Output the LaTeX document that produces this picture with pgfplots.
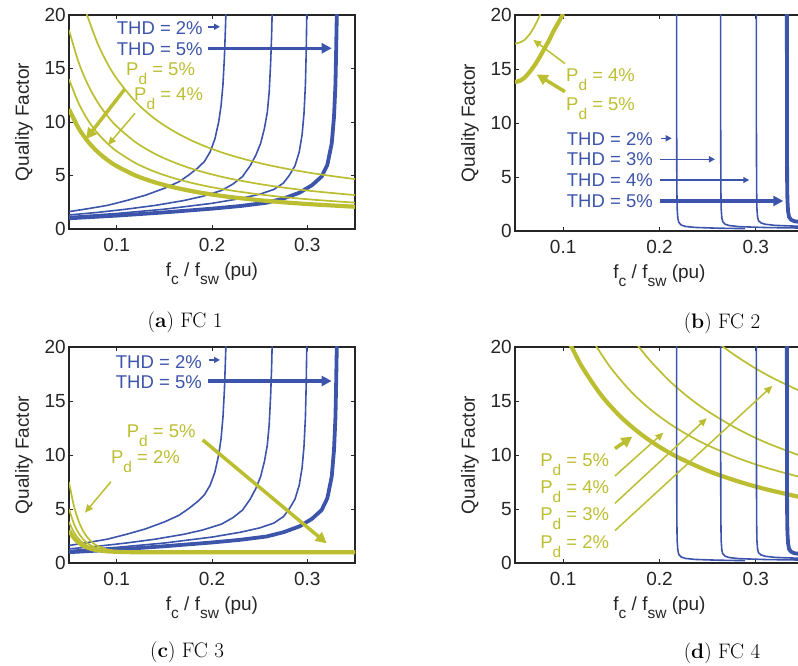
\documentclass[border=0pt]{standalone}
\usepackage{pgfplots}
\pgfplotsset{compat=1.18}
\usepackage{pgfplotstable}
\usepackage{fontspec}
\usetikzlibrary{arrows.meta}
\newfontfamily\arial{Liberation Sans}
\definecolor{thdblue}{RGB}{60,84,170}
\definecolor{pdyel}{RGB}{188,190,50}
\newcommand\sub[2][-9pt]{\raisebox{#1}{\fontsize{15.5}{16}\selectfont #2}}
\newcommand\ann{\arial\fontsize{18.5}{20}\selectfont}

% THD curves, shared by FC 1 and FC 3
\pgfplotstableread{
x y
0.05 1.62
0.07 1.9
0.09 2.2
0.11 2.65
0.13 3.15
0.15 3.8
0.165 4.4
0.175 5.0
0.185 5.7
0.192 6.3
0.198 7.2
0.203 8.4
0.207 10.0
0.2095 11.5
0.2115 13.5
0.213 16.0
0.214 18.5
0.2147 20.5
}\thdtwo
\pgfplotstableread{
x y
0.05 1.31
0.08 1.55
0.11 1.85
0.14 2.2
0.17 2.65
0.19 3.05
0.21 3.6
0.222 4.2
0.232 4.9
0.24 5.9
0.246 6.9
0.251 8.0
0.255 9.4
0.258 10.9
0.26 12.8
0.2615 15.5
0.2625 18.0
0.2632 20.5
}\thdthree
\pgfplotstableread{
x y
0.05 1.15
0.1 1.45
0.15 1.85
0.2 2.4
0.23 2.85
0.25 3.25
0.265 3.7
0.275 4.3
0.281 5.0
0.287 5.9
0.2915 7.2
0.2945 8.8
0.2965 10.8
0.298 13.5
0.2988 16.5
0.2995 20.5
}\thdfour
\pgfplotstableread{
x y
0.05 1.0
0.1 1.25
0.15 1.55
0.2 1.9
0.23 2.15
0.257 2.45
0.275 2.85
0.292 3.4
0.305 4.1
0.315 4.9
0.321 6.0
0.3256 8.0
0.328 10.5
0.3295 13.5
0.3303 17
0.331 20.5
}\thdfive
% THD curves of FC 2 and FC 4
\pgfplotstableread{
x y
0.2177 21
0.2178 10
0.2180 4
0.2183 2.1
0.2190 1.2
0.2200 0.8
0.2225 0.55
0.2270 0.42
0.2370 0.33
0.2600 0.26
0.2888 0.22
}\vthdtwo
\pgfplotstableread{
x y
0.2634 21
0.2635 10
0.2637 4
0.2640 2.1
0.2647 1.2
0.2657 0.85
0.2682 0.62
0.2727 0.5
0.2830 0.4
0.3100 0.32
0.35 0.27
}\vthdthree
\pgfplotstableread{
x y
0.3005 21
0.3006 10
0.3008 4
0.3011 2.1
0.3018 1.3
0.3028 0.95
0.3053 0.75
0.31 0.62
0.32 0.52
0.35 0.42
}\vthdfour
\pgfplotstableread{
x y
0.3322 21
0.3323 10
0.3325 4.5
0.3328 2.8
0.3335 1.8
0.3345 1.3
0.3365 1.05
0.34 0.9
0.35 0.8
}\vthdfive

\pgfplotsset{
  fcax/.style={
    scale only axis, anchor=south west,
    xmin=0.05, xmax=0.35, ymin=0, ymax=20,
    xtick={0.1,0.2,0.3}, xticklabels={0.1,0.2,0.3},
    ytick={0,5,10,15,20}, yticklabels={0,5,10,15,20},
    tick align=inside, major tick length=4pt,
    axis line style={black!85, line width=1.2pt},
    tick style={black!85, line width=0.8pt},
    tick label style={font=\arial\fontsize{19}{20}\selectfont, text=black!85, inner sep=1pt},
    xticklabel style={yshift=-8pt},
    yticklabel style={xshift=-2pt},
    label style={font=\arial\fontsize{19}{20}\selectfont, text=black!85},
    xlabel={f\sub[-8pt]{c} / f\sub[-8pt]{sw} (pu)},
    ylabel={Quality Factor},
    xlabel style={at={([yshift=-48pt]axis description cs:0.5,0)}, anchor=base},
    ylabel style={at={([xshift=-45pt]axis description cs:0,0.5)}, anchor=center},
    clip mode=individual,
  },
  bthin/.style={thdblue, line width=1.6pt},
  bthick/.style={thdblue, line width=3.8pt},
  ythin/.style={pdyel, line width=1.7pt, smooth},
  ythick/.style={pdyel, line width=4.2pt, smooth},
}
\tikzset{
  ann/.style={font=\ann, inner sep=0pt, anchor=base west},
  barrow/.style={thdblue, line width=1.5pt, -{Triangle[length=6pt,width=6pt]}},
  bbarrow/.style={thdblue, line width=3.5pt, -{Triangle[length=10pt,width=10pt]}},
  yarrow/.style={pdyel, line width=1.5pt, -{Triangle[length=8pt,width=7pt]}},
  yyarrow/.style={pdyel, line width=3.5pt, -{Triangle[length=11pt,width=11pt]}},
}

\begin{document}
\begin{tikzpicture}
\useasboundingbox (0,0) rectangle (798pt,666pt);

% (a) FC 1
\begin{axis}[fcax, at={(69pt,437pt)}, width=286pt, height=214pt]
\addplot[bthin] table {\thdtwo};
\addplot[bthin] table {\thdthree};
\addplot[bthin] table {\thdfour};
\addplot[bthick] table {\thdfive};
\addplot[ythin] coordinates {(0.066,20.84) (0.0689,20.0) (0.08,17.35) (0.09,15.52) (0.1,14.06) (0.12,11.87) (0.14,10.3) (0.16,9.13) (0.18,8.21) (0.2,7.48) (0.22,6.88) (0.25,6.16) (0.28,5.6) (0.31,5.15) (0.35,4.66)};
\addplot[ythin] coordinates {(0.05,18.6) (0.06,15.6) (0.07,13.46) (0.08,11.85) (0.09,10.6) (0.1,9.6) (0.12,8.1) (0.14,7.03) (0.16,6.23) (0.18,5.6) (0.2,5.1) (0.22,4.69) (0.25,4.2) (0.28,3.81) (0.31,3.5) (0.35,3.17)};
\addplot[ythin] coordinates {(0.05,14.0) (0.06,11.76) (0.07,10.15) (0.08,8.95) (0.09,8.02) (0.1,7.27) (0.12,6.15) (0.14,5.35) (0.16,4.75) (0.18,4.28) (0.2,3.9) (0.22,3.6) (0.25,3.23) (0.28,2.94) (0.31,2.71) (0.35,2.46)};
\addplot[ythick] coordinates {(0.05,11.2) (0.06,9.43) (0.07,8.16) (0.08,7.21) (0.09,6.47) (0.1,5.88) (0.12,4.99) (0.14,4.36) (0.16,3.89) (0.18,3.52) (0.2,3.22) (0.22,2.98) (0.25,2.69) (0.28,2.46) (0.31,2.28) (0.35,2.08)};
\node[ann, text=thdblue] at (axis cs:0.1,18.22) {THD = 2\%};
\node[ann, text=thdblue] at (axis cs:0.1,16.26) {THD = 5\%};
\draw[barrow] (axis cs:0.1961,18.9) -- (axis cs:0.2084,18.9);
\draw[bbarrow] (axis cs:0.1961,16.89) -- (axis cs:0.3256,16.89);
\node[ann, text=pdyel] at (axis cs:0.1098,14.39) {P\sub{d} = 5\%};
\node[ann, text=pdyel] at (axis cs:0.1182,11.99) {P\sub{d} = 4\%};
\draw[yyarrow] (axis cs:0.1087,13.1) -- (axis cs:0.0678,8.4);
\draw[yarrow] (axis cs:0.1192,10.8) -- (axis cs:0.0909,7.85);
\end{axis}

% (b) FC 2
\begin{axis}[fcax, at={(515pt,435pt)}, width=289pt, height=216pt]
\addplot[ythin] coordinates {(0.05,17.35) (0.055,17.45) (0.06,17.7) (0.065,18.2) (0.07,18.9) (0.075,19.8) (0.077,20.3)};
\addplot[ythick] coordinates {(0.05,13.8) (0.055,13.9) (0.06,14.2) (0.065,14.7) (0.07,15.3) (0.075,16.0) (0.08,16.8) (0.085,17.6) (0.09,18.5) (0.095,19.3) (0.1,20.1)};
\addplot[bthin] table {\vthdtwo};
\addplot[bthin] table {\vthdthree};
\addplot[bthin] table {\vthdfour};
\addplot[bthick] table {\vthdfive};
\node[ann, text=pdyel] at (axis cs:0.1029,13.82) {P\sub{d} = 4\%};
\node[ann, text=pdyel] at (axis cs:0.1029,11.2) {P\sub{d} = 5\%};
\draw[yarrow] (axis cs:0.1019,15.5) -- (axis cs:0.069,17.7);
\draw[yyarrow] (axis cs:0.1019,12.9) -- (axis cs:0.0725,14.5);
\node[ann, text=thdblue] at (axis cs:0.1037,7.96) {THD = 2\%};
\node[ann, text=thdblue] at (axis cs:0.1037,6.02) {THD = 3\%};
\node[ann, text=thdblue] at (axis cs:0.1037,4.1) {THD = 4\%};
\node[ann, text=thdblue] at (axis cs:0.1037,2.16) {THD = 5\%};
\draw[barrow] (axis cs:0.2016,8.58) -- (axis cs:0.2127,8.58);
\draw[barrow] (axis cs:0.2005,6.64) -- (axis cs:0.2576,6.64);
\draw[barrow] (axis cs:0.2005,4.72) -- (axis cs:0.2932,4.72);
\draw[bbarrow] (axis cs:0.2005,2.78) -- (axis cs:0.3285,2.78);
\end{axis}

% (c) FC 3
\begin{axis}[fcax, at={(69pt,103pt)}, width=286pt, height=216pt]
\addplot[bthin] table {\thdtwo};
\addplot[bthin] table {\thdthree};
\addplot[bthin] table {\thdfour};
\addplot[bthick] table {\thdfive};
\addplot[ythin] coordinates {(0.05,7.5) (0.055,5.34) (0.06,3.9) (0.065,2.94) (0.07,2.29) (0.075,1.86) (0.08,1.58) (0.09,1.26) (0.1,1.12) (0.12,1.02) (0.2,1.0) (0.35,1.0)};
\addplot[ythin] coordinates {(0.05,5.0) (0.055,3.67) (0.06,2.78) (0.065,2.19) (0.07,1.8) (0.075,1.53) (0.08,1.36) (0.09,1.16) (0.1,1.07) (0.12,1.01) (0.2,1.0) (0.35,1.0)};
\addplot[ythin] coordinates {(0.05,3.8) (0.055,2.87) (0.06,2.25) (0.065,1.83) (0.07,1.56) (0.075,1.37) (0.08,1.25) (0.09,1.11) (0.1,1.05) (0.12,1.01) (0.2,1.0) (0.35,1.0)};
\addplot[ythick] coordinates {(0.05,3.0) (0.055,2.34) (0.06,1.89) (0.065,1.6) (0.07,1.4) (0.075,1.27) (0.08,1.18) (0.09,1.08) (0.1,1.04) (0.12,1.0) (0.2,1.0) (0.35,1.0)};
\node[ann, text=thdblue] at (axis cs:0.099,18.03) {THD = 2\%};
\node[ann, text=thdblue] at (axis cs:0.099,16.18) {THD = 5\%};
\draw[barrow] (axis cs:0.1972,18.8) -- (axis cs:0.2084,18.8);
\draw[bbarrow] (axis cs:0.1961,16.85) -- (axis cs:0.3255,16.85);
\node[ann, text=pdyel] at (axis cs:0.1105,11.64) {P\sub{d} = 5\%};
\node[ann, text=pdyel] at (axis cs:0.094,9.23) {P\sub{d} = 2\%};
\draw[yarrow] (axis cs:0.094,7.53) -- (axis cs:0.0668,4.66);
\draw[yyarrow] (axis cs:0.1902,11.4) -- (axis cs:0.3203,1.82);
\end{axis}

% (d) FC 4
\begin{axis}[fcax, at={(515pt,103pt)}, width=289pt, height=216pt]
\addplot[ythin] coordinates {(0.26,20.43) (0.2663,20.0) (0.28,19.13) (0.3,18.0) (0.32,17.02) (0.35,15.75)};
\addplot[ythin] coordinates {(0.175,20.44) (0.1787,20.0) (0.19,18.76) (0.21,16.89) (0.23,15.35) (0.25,14.06) (0.28,12.46) (0.31,11.17) (0.35,9.8)};
\addplot[ythin] coordinates {(0.13,20.73) (0.1348,20.0) (0.15,18.0) (0.17,15.91) (0.19,14.26) (0.21,12.93) (0.23,11.83) (0.25,10.9) (0.28,9.76) (0.31,8.84) (0.35,7.86)};
\addplot[ythick] coordinates {(0.105,20.73) (0.1088,20.0) (0.12,18.1) (0.14,15.48) (0.16,13.51) (0.18,11.98) (0.2,10.75) (0.22,9.75) (0.25,8.54) (0.28,7.6) (0.31,6.84) (0.35,6.02)};
\addplot[bthin] table {\vthdtwo};
\addplot[bthin] table {\vthdthree};
\addplot[bthin] table {\vthdfour};
\addplot[bthick] table {\vthdfive};
\node[ann, text=pdyel] at (axis cs:0.076,8.92) {P\sub{d} = 5\%};
\node[ann, text=pdyel] at (axis cs:0.076,6.45) {P\sub{d} = 4\%};
\node[ann, text=pdyel] at (axis cs:0.076,3.92) {P\sub{d} = 3\%};
\node[ann, text=pdyel] at (axis cs:0.076,1.36) {P\sub{d} = 2\%};
\draw[yyarrow] (axis cs:0.1538,10.6) -- (axis cs:0.1718,11.7);
\draw[yarrow] (axis cs:0.1538,8.06) -- (axis cs:0.204,12.07);
\draw[yarrow] (axis cs:0.1538,5.53) -- (axis cs:0.249,13.4);
\draw[yarrow] (axis cs:0.1538,3.0) -- (axis cs:0.3171,16.4);
\end{axis}

% sub-figure captions
\begin{scope}[every node/.style={anchor=base, inner sep=0pt, font=\fontsize{21}{22}\selectfont}]
\node at (185pt,338pt) {(\textbf{a}) FC 1};
\node at (722pt,337pt) {(\textbf{b}) FC 2};
\node at (187pt,8pt) {(\textbf{c}) FC 3};
\node at (722pt,7pt) {(\textbf{d}) FC 4};
\end{scope}
\end{tikzpicture}
\end{document}
